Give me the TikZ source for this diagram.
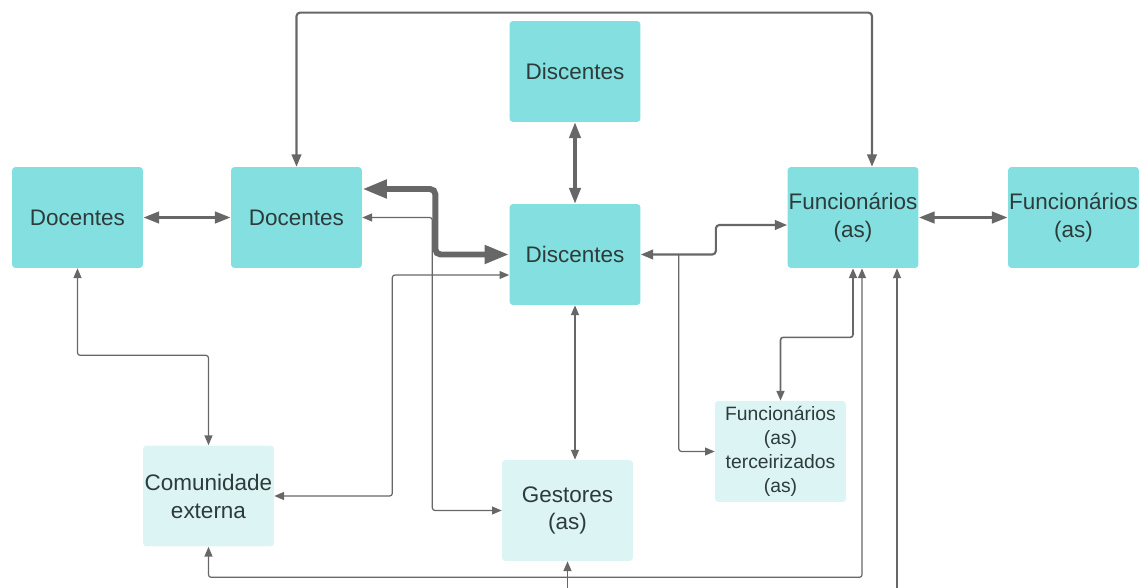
\documentclass[tikz,border=0pt]{standalone}
\usepackage{fontspec}
\setmainfont{Liberation Sans}
\usetikzlibrary{arrows.meta}
\usepackage{xcolor}
\definecolor{c1}{HTML}{84E0E0}
\definecolor{c2}{HTML}{DCF4F4}
\definecolor{ln}{HTML}{676767}
\definecolor{tx}{HTML}{2E3B3B}

\tikzset{
	box/.style={fill=c1, rounded corners=2pt, minimum width=2.62cm, minimum height=2.02cm, inner sep=0pt, align=center, text=tx, font=\fontsize{12.8}{15.9}\selectfont},
	lbox/.style={box, fill=c2},
	thin link/.style={draw=ln, line width=0.7pt, rounded corners=1.5pt, {Triangle[length=5.5pt,width=4.5pt]}-{Triangle[length=5.5pt,width=4.5pt]}},
	mid link/.style={draw=ln, line width=1.2pt, rounded corners=2pt, {Triangle[length=7pt,width=5.5pt]}-{Triangle[length=7pt,width=5.5pt]}},
	thick link/.style={draw=ln, line width=1.8pt, {Triangle[length=9pt,width=6.5pt]}-{Triangle[length=9pt,width=6.5pt]}},
	heavy link/.style={draw=ln, line width=3.4pt, rounded corners=3pt, {Triangle[length=14pt,width=10pt]}-{Triangle[length=14pt,width=10pt]}}
}

\begin{document}
\begin{tikzpicture}[x=0.02cm, y=-0.02cm]
	\useasboundingbox (0,0) rectangle (1139,588);
	\node [box] (docL) at (77.5,217.5) {Docentes};
	\node [box] (docM) at (296.5,217.5) {Docentes};
	\node [box] (disT) at (575,71.5) {Discentes};
	\node [box] (disM) at (575,254.5) {Discentes};
	\node [box] (funM) at (853,217.5) {Funcionários\\(as)};
	\node [box] (funR) at (1073.5,217.5) {Funcionários\\(as)};
	\node [lbox] (com) at (208.5,496) {Comunidade\\externa};
	\node [lbox] (ges) at (567.5,510.5) {Gestores\\(as)};
	\node [lbox, font=\fontsize{11}{13.6}\selectfont] (ter) at (780.5,451.5) {Funcionários\\(as)\\terceirizados\\(as)};

	\draw [thick link] (docL) -- (docM);
	\draw [thick link] (disT) -- (disM);
	\draw [thick link] (funM) -- (funR);
	\draw [mid link] (docM.north) -- ++(0,-154) -| ([xshift=0.38cm]funM.north);
	\draw [heavy link] ([yshift=0.57cm]docM.east) -- ++(73,0) |- (disM.west);
	\draw [thin link] (docM.east) -- ++(70,0) |- (ges.west);
	\draw [thin link] (com.east) -- ++(118,0) |- ([yshift=-0.41cm]disM.west);
	\draw [thin link] (disM.south) -- (disM.south |- ges.north);
	\draw [mid link] (disM.east) -- ++(75,0) |- ([yshift=-0.15cm]funM.west);
	\coordinate (split) at ([xshift=0.76cm]disM.east);
	\draw [thin link, -{Triangle[length=5.5pt,width=4.5pt]}] (split) |- (ter.west);
	\draw [thin link, line width=0.9pt] (funM.south) -- ++(0,69) -| (ter.north);
	\draw [thin link] ([xshift=0.18cm]funM.south) -- ++(0,309) -| (com.south);
	\draw [thin link] (docL.south) -- ++(0,87) -| (com.north);
	\coordinate (gesIn) at ([yshift=-0.54cm]ges.south);
	\coordinate (funIn) at (897,588);
	\draw [thin link, -{Triangle[length=5.5pt,width=4.5pt]}] (gesIn) -- (ges.south);
	\draw [thin link, -{Triangle[length=5.5pt,width=4.5pt]}] (funIn) -- (funIn |- funM.south);
\end{tikzpicture}
\end{document}
